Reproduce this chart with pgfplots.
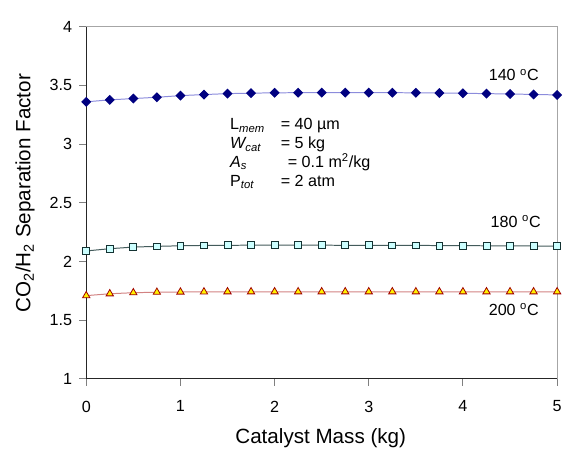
\documentclass[border=0pt]{standalone}
\usepackage{fontspec}
\setmainfont{Liberation Sans}
\usepackage{pgfplots}
\pgfplotsset{compat=1.18}

\definecolor{c140}{RGB}{0,0,128}
\definecolor{l140}{RGB}{140,140,220}
\definecolor{c180}{RGB}{204,255,255}
\definecolor{d180}{RGB}{20,50,50}
\definecolor{l200}{RGB}{210,130,130}
\definecolor{d200}{RGB}{160,0,0}

\newcommand{\tickfont}{\fontsize{12.2}{14}\selectfont}
\newcommand{\labfont}{\fontsize{15.6}{18}\selectfont}

\begin{document}
\begin{tikzpicture}
\begin{axis}[
    scale only axis,
    width=356.25pt, height=266.25pt,
    xmin=0, xmax=5, ymin=1, ymax=4,
    xtick={0,1,2,3,4,5},
    ytick={1,1.5,2,2.5,3,3.5,4},
    xtick pos=bottom, ytick pos=left,
    tick align=outside,
    major tick length=5.25pt,
    tick style={gray, line width=0.75pt},
    axis line style={gray!70, line width=0.75pt},
    ticklabel style={font=\tickfont},
    xticklabel style={yshift=-8pt},
    yticklabel style={xshift=-2pt},
    /pgf/number format/assume math mode=true,
    xlabel={Catalyst Mass (kg)},
    ylabel={CO\textsubscript{2}/H\textsubscript{2} Separation Factor},
    label style={font=\labfont},
    xlabel style={at={(axis description cs:0.498,-0.168)}, anchor=center},
    ylabel style={at={(axis description cs:-0.13,0.527)}, anchor=center, rotate=0},
    clip=false,
]
% 140 C
\addplot[l140, line width=0.75pt, mark=square*, mark size=2.3pt,
    mark options={rotate=45, fill=c140, draw=c140}] coordinates {
    (0,3.360) (0.25,3.377) (0.5,3.388) (0.75,3.399) (1,3.413)
    (1.25,3.422) (1.5,3.430) (1.75,3.434) (2,3.437) (2.25,3.438)
    (2.5,3.439) (2.75,3.439) (3,3.439) (3.25,3.438) (3.5,3.437)
    (3.75,3.435) (4,3.433) (4.25,3.430) (4.5,3.427) (4.75,3.423) (5,3.419)
};
% 180 C
\addplot[d180!80, line width=0.75pt, mark=square*, mark size=2.6pt,
    mark options={fill=c180, draw=d180, line width=0.6pt}] coordinates {
    (0,2.089) (0.25,2.108) (0.5,2.122) (0.75,2.128) (1,2.133)
    (1.25,2.136) (1.5,2.137) (1.75,2.138) (2,2.138) (2.25,2.138)
    (2.5,2.138) (2.75,2.137) (3,2.137) (3.25,2.136) (3.5,2.136)
    (3.75,2.135) (4,2.134) (4.25,2.133) (4.5,2.132) (4.75,2.131) (5,2.130)
};
% 200 C
\addplot[l200, line width=0.75pt, mark=triangle*, mark size=3.2pt,
    mark options={fill=yellow, draw=d200, line width=0.6pt}] coordinates {
    (0,1.708) (0.25,1.724) (0.5,1.733) (0.75,1.737) (1,1.739)
    (1.25,1.740) (1.5,1.741) (1.75,1.741) (2,1.741) (2.25,1.741)
    (2.5,1.741) (2.75,1.741) (3,1.741) (3.25,1.741) (3.5,1.741)
    (3.75,1.741) (4,1.741) (4.25,1.741) (4.5,1.741) (4.75,1.741) (5,1.741)
};
\draw[black!85, line width=0.75pt] (rel axis cs:0,1) -- (rel axis cs:0,0) -- (rel axis cs:1,0);

\node[font=\tickfont, anchor=base] at (axis cs:4.54,3.538) {140 \textsuperscript{o}C};
\node[font=\tickfont, anchor=base] at (axis cs:4.56,2.293) {180 \textsuperscript{o}C};
\node[font=\tickfont, anchor=base] at (axis cs:4.54,1.538) {200 \textsuperscript{o}C};

\node[font=\tickfont, anchor=base west, inner sep=0pt] at (axis cs:1.526,3.122) {L\textsubscript{\itshape mem}};
\node[font=\tickfont, anchor=base west, inner sep=0pt] at (axis cs:1.526,2.961) {\itshape W\textsubscript{cat}};
\node[font=\tickfont, anchor=base west, inner sep=0pt] at (axis cs:1.526,2.801) {\itshape A\textsubscript{s}};
\node[font=\tickfont, anchor=base west, inner sep=0pt] at (axis cs:1.526,2.640) {P\textsubscript{\itshape tot}};
\node[font=\tickfont, anchor=base west, inner sep=0pt] at (axis cs:2.063,3.122) {= 40 µm};
\node[font=\tickfont, anchor=base west, inner sep=0pt] at (axis cs:2.063,2.961) {= 5 kg};
\node[font=\tickfont, anchor=base west, inner sep=0pt] at (axis cs:2.137,2.801) {= 0.1 m\textsuperscript{2}/kg};
\node[font=\tickfont, anchor=base west, inner sep=0pt] at (axis cs:2.063,2.640) {= 2 atm};
\end{axis}
\path ([xshift=-65.25pt,yshift=-52.5pt]current axis.south west) rectangle ([xshift=3pt,yshift=20.25pt]current axis.north east);
\end{tikzpicture}
\end{document}
